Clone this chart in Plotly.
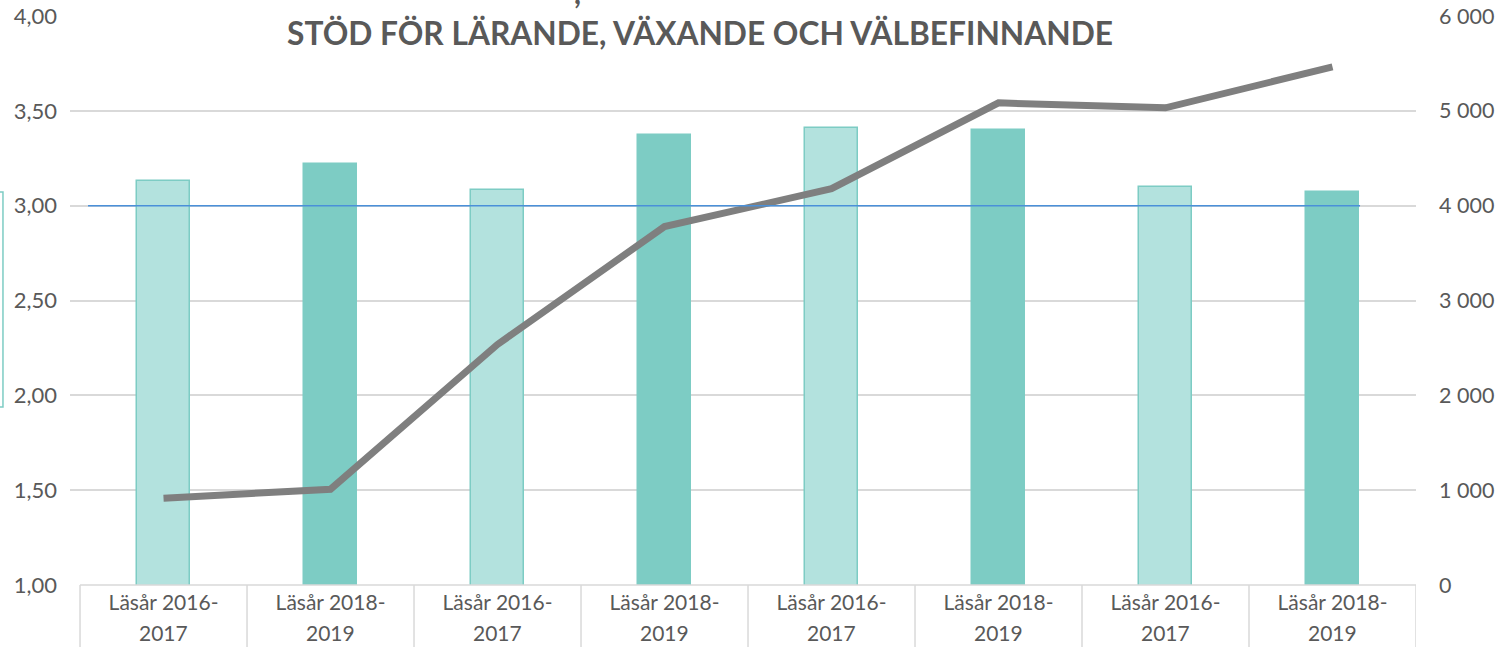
import plotly.graph_objects as go

cat_line1 = ["Läsår 2016-", "Läsår 2018-"] * 4
cat_line2 = ["2017", "2019"] * 4
bar_values = [3.13, 3.22, 3.08, 3.37, 3.41, 3.40, 3.10, 3.07]
bar_is_light = [True, False, True, False, True, False, True, False]
line_values = [915, 1010, 2537, 3779, 4179, 5084, 5032, 5463]
target_value = 3.0
left_ticks = [1.0, 1.5, 2.0, 2.5, 3.0, 3.5, 4.0]
right_ticks = [0, 1000, 2000, 3000, 4000, 5000, 6000]
title_text = "STÖD FÖR LÄRANDE, VÄXANDE OCH VÄLBEFINNANDE"

LIGHT = "#B3E2DE"
DARK = "#7DCCC4"
EDGE = "#7DCCC4"
GRAY_TXT = "#595959"
GRID = "#D9D9D9"

xs = list(range(len(cat_line1)))

fig = go.Figure()
fig.add_trace(go.Bar(
    x=xs, y=bar_values,
    marker=dict(color=[LIGHT if l else DARK for l in bar_is_light],
                line=dict(color=EDGE, width=1.5)),
    width=0.323, yaxis="y", showlegend=False,
))
fig.add_trace(go.Scatter(
    x=xs, y=line_values, yaxis="y2", mode="lines",
    line=dict(color="#7F7F7F", width=7), showlegend=False,
))

shapes = []
# target line
shapes.append(dict(type="line", xref="x", yref="y", x0=-0.452, x1=7.165,
                   y0=target_value, y1=target_value,
                   line=dict(color="#4A90D9", width=1.5), layer="above"))
# category boxes
shapes.append(dict(type="line", xref="x", yref="paper", x0=-0.5, x1=len(xs) - 0.5,
                   y0=0, y1=0, line=dict(color=GRID, width=1.5)))
for i in range(len(xs) + 1):
    shapes.append(dict(type="line", xref="x", yref="paper", x0=i - 0.5, x1=i - 0.5,
                       y0=0, y1=-0.12, line=dict(color=GRID, width=1.5)))
# clipped legend box at left edge
shapes.append(dict(type="rect", xref="paper", yref="paper", x0=-0.0609, x1=-0.0498,
                   y0=0.3128, y1=0.6907, line=dict(color=EDGE, width=1.5)))

annotations = [
    dict(text="<b>" + title_text + "</b>", xref="paper", yref="paper",
         x=0.468, y=0.971, xanchor="center", yanchor="middle", showarrow=False,
         font=dict(family="Lato", size=31.7, color=GRAY_TXT)),
    dict(text="<b>,</b>", xref="paper", yref="paper", x=0.3774, y=1.0422,
         xanchor="center", yanchor="middle", showarrow=False,
         font=dict(family="Lato", size=30, color=GRAY_TXT)),
]
for x, t in zip(xs, cat_line2):
    annotations.append(dict(text=t, xref="x", yref="paper", x=x, y=-0.084,
                            xanchor="center", yanchor="middle", showarrow=False,
                            font=dict(family="Lato", size=21, color=GRAY_TXT)))

fig.update_layout(
    width=1510, height=647,
    margin=dict(l=70, r=94, t=16, b=62),
    paper_bgcolor="white", plot_bgcolor="white",
    separators=", ",
    bargap=0,
    font=dict(family="Lato", color=GRAY_TXT, size=20),
    xaxis=dict(range=[-0.56, len(xs) - 0.5], tickmode="array", tickvals=xs,
               ticktext=cat_line1, showgrid=False, showline=False, ticks="",
               zeroline=False, automargin=False, ticklabelstandoff=3,
               tickfont=dict(size=21, color=GRAY_TXT)),
    yaxis=dict(range=[1, 4], tickmode="array", tickvals=left_ticks,
               tickformat=".2f", showgrid=True, gridcolor=GRID, gridwidth=1.5,
               zeroline=False, showline=False, ticks="", ticklabelstandoff=12,
               automargin=False, tickfont=dict(size=22, color=GRAY_TXT)),
    yaxis2=dict(range=[0, 6000], overlaying="y", side="right", tickmode="array",
                tickvals=right_ticks, tickformat=",d", showgrid=False,
                zeroline=False, showline=False, ticks="", ticklabelstandoff=22,
                automargin=False, tickfont=dict(size=21.5, color=GRAY_TXT)),
    shapes=shapes,
    annotations=annotations,
)

fig.write_html("out.html", config={"displayModeBar": False},
               post_script="document.body.style.margin='0';document.body.style.overflow='hidden';")
